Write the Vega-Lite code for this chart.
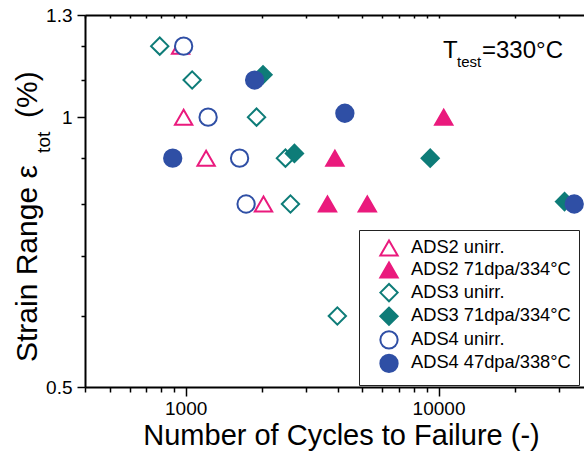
{
  "$schema": "https://vega.github.io/schema/vega-lite/v6.json",
  "width": 499,
  "height": 372,
  "autosize": {"type": "none"},
  "padding": {"left": 85, "top": 15, "right": 0, "bottom": 69},
  "background": "white",
  "config": {
    "view": {"stroke": null},
    "font": "Liberation Sans",
    "axis": {
      "labelFont": "Liberation Sans",
      "titleFont": "Liberation Sans",
      "labelColor": "black",
      "titleColor": "black",
      "titleFontWeight": "normal",
      "domainColor": "black",
      "domainWidth": 2,
      "tickColor": "black",
      "tickWidth": 1.5,
      "grid": false,
      "labelFlush": false,
      "labelOverlap": false
    }
  },
  "resolve": {"axis": {"x": "independent", "y": "independent"}},
  "datasets": {
    "tests": [
      {"series": "ADS2 unirr.", "cycles": 955, "strain": 1.2},
      {"series": "ADS2 unirr.", "cycles": 982, "strain": 1.0},
      {"series": "ADS2 unirr.", "cycles": 1205, "strain": 0.9},
      {"series": "ADS2 unirr.", "cycles": 2032, "strain": 0.8},
      {"series": "ADS2 71dpa/334°C", "cycles": 10483, "strain": 1.0},
      {"series": "ADS2 71dpa/334°C", "cycles": 3892, "strain": 0.9},
      {"series": "ADS2 71dpa/334°C", "cycles": 3638, "strain": 0.8},
      {"series": "ADS2 71dpa/334°C", "cycles": 5228, "strain": 0.8},
      {"series": "ADS3 unirr.", "cycles": 790, "strain": 1.2},
      {"series": "ADS3 unirr.", "cycles": 1061, "strain": 1.1},
      {"series": "ADS3 unirr.", "cycles": 1907, "strain": 1.0},
      {"series": "ADS3 unirr.", "cycles": 2481, "strain": 0.9},
      {"series": "ADS3 unirr.", "cycles": 2597, "strain": 0.8},
      {"series": "ADS3 unirr.", "cycles": 3980, "strain": 0.6},
      {"series": "ADS3 71dpa/334°C", "cycles": 2023, "strain": 1.115},
      {"series": "ADS3 71dpa/334°C", "cycles": 2693, "strain": 0.911},
      {"series": "ADS3 71dpa/334°C", "cycles": 9270, "strain": 0.9},
      {"series": "ADS3 71dpa/334°C", "cycles": 31490, "strain": 0.805},
      {"series": "ADS4 unirr.", "cycles": 982, "strain": 1.2},
      {"series": "ADS4 unirr.", "cycles": 1227, "strain": 1.0},
      {"series": "ADS4 unirr.", "cycles": 1634, "strain": 0.9},
      {"series": "ADS4 unirr.", "cycles": 1734, "strain": 0.8},
      {"series": "ADS4 47dpa/338°C", "cycles": 1874, "strain": 1.1},
      {"series": "ADS4 47dpa/338°C", "cycles": 889, "strain": 0.9},
      {"series": "ADS4 47dpa/338°C", "cycles": 4262, "strain": 1.01},
      {"series": "ADS4 47dpa/338°C", "cycles": 34400, "strain": 0.8}
    ],
    "noteBig": [
      {"cycles": 10415, "strain": 1.1641, "text": "T"},
      {"cycles": 14856, "strain": 1.1641, "text": "=330°C"}
    ],
    "noteSub": [
      {"cycles": 11830, "strain": 1.1375, "text": "test"}
    ],
    "yTitleBig": [
      {"cycles": 258.4, "strain": 0.5331, "text": "Strain Range ε"},
      {"cycles": 258.4, "strain": 0.998, "text": "(%)"}
    ],
    "yTitleSub": [
      {"cycles": 290.9, "strain": 0.9123, "text": "tot"}
    ]
  },
  "layer": [
    {
      "data": {"name": "tests"},
      "mark": {"type": "point", "strokeWidth": 2, "opacity": 1},
      "encoding": {
        "x": {
          "field": "cycles",
          "type": "quantitative",
          "scale": {"type": "log", "domain": [400, 37600], "nice": false},
          "axis": {
            "orient": "bottom",
            "title": "Number of Cycles to Failure (-)",
            "titleFontSize": 29,
            "titlePadding": 3,
            "titleX": 256,
            "values": [1000, 10000],
            "format": "d",
            "labelFontSize": 19,
            "labelPadding": 3,
            "tickSize": 9
          }
        },
        "y": {
          "field": "strain",
          "type": "quantitative",
          "scale": {"type": "log", "domain": [0.5, 1.3], "nice": false},
          "axis": {
            "orient": "left",
            "title": null,
            "values": [0.5, 1, 1.3],
            "labelExpr": "datum.value == 0.5 ? '0.5' : datum.value == 1 ? '1' : '1.3'",
            "labelFontSize": 19,
            "labelPadding": 5,
            "tickSize": 8
          }
        },
        "shape": {
          "field": "series",
          "type": "nominal",
          "sort": null,
          "scale": {
            "domain": ["ADS2 unirr.", "ADS2 71dpa/334°C", "ADS3 unirr.", "ADS3 71dpa/334°C", "ADS4 unirr.", "ADS4 47dpa/338°C"],
            "range": ["triangle-up", "triangle-up", "diamond", "diamond", "circle", "circle"]
          },
          "legend": {
            "title": null,
            "orient": "none",
            "legendX": 274,
            "legendY": 215,
            "padding": 8,
            "symbolOffset": 12,
            "strokeColor": "#222222",
            "fillColor": "white",
            "labelFont": "Liberation Sans",
            "labelFontSize": 18.3,
            "labelColor": "black",
            "labelOffset": 12,
            "labelLimit": 400,
            "rowPadding": -2.4,
            "symbolStrokeWidth": 2
          }
        },
        "stroke": {
          "field": "series",
          "type": "nominal",
          "sort": null,
          "scale": {
            "domain": ["ADS2 unirr.", "ADS2 71dpa/334°C", "ADS3 unirr.", "ADS3 71dpa/334°C", "ADS4 unirr.", "ADS4 47dpa/338°C"],
            "range": ["#EA1A7D", "#EA1A7D", "#0E7C78", "#0E7C78", "#2F4FA5", "#2F4FA5"]
          },
          "legend": {"title": null}
        },
        "fill": {
          "field": "series",
          "type": "nominal",
          "sort": null,
          "scale": {
            "domain": ["ADS2 unirr.", "ADS2 71dpa/334°C", "ADS3 unirr.", "ADS3 71dpa/334°C", "ADS4 unirr.", "ADS4 47dpa/338°C"],
            "range": ["white", "#EA1A7D", "white", "#0E7C78", "white", "#2F4FA5"]
          },
          "legend": {"title": null}
        },
        "size": {
          "field": "series",
          "type": "nominal",
          "sort": null,
          "scale": {
            "domain": ["ADS2 unirr.", "ADS2 71dpa/334°C", "ADS3 unirr.", "ADS3 71dpa/334°C", "ADS4 unirr.", "ADS4 47dpa/338°C"],
            "range": [300, 300, 360, 360, 220, 240]
          },
          "legend": {"title": null}
        }
      }
    },
    {
      "data": {"name": "noteBig"},
      "mark": {"type": "text", "align": "left", "baseline": "alphabetic", "fontSize": 24, "font": "Liberation Sans", "color": "black"},
      "encoding": {
        "x": {
          "field": "cycles",
          "type": "quantitative",
          "axis": {
            "orient": "top",
            "title": null,
            "labels": false,
            "values": [400, 500, 600, 700, 800, 900, 1000, 2000, 3000, 4000, 5000, 6000, 7000, 8000, 9000, 10000, 20000, 30000],
            "tickSize": -3
          }
        },
        "y": {
          "field": "strain",
          "type": "quantitative",
          "axis": {
            "orient": "left",
            "title": null,
            "labels": false,
            "domain": false,
            "values": [0.6, 0.7, 0.8, 0.9, 1.1, 1.2],
            "tickSize": 4
          }
        },
        "text": {"field": "text"}
      }
    },
    {
      "data": {"name": "noteSub"},
      "mark": {"type": "text", "align": "left", "baseline": "alphabetic", "fontSize": 15, "font": "Liberation Sans", "color": "black"},
      "encoding": {
        "x": {
          "field": "cycles",
          "type": "quantitative",
          "axis": {
            "orient": "bottom",
            "title": null,
            "labels": false,
            "domain": false,
            "values": [400, 500, 600, 700, 800, 900, 2000, 3000, 4000, 5000, 6000, 7000, 8000, 9000, 20000, 30000],
            "tickSize": 5
          }
        },
        "y": {"field": "strain", "type": "quantitative", "axis": null},
        "text": {"field": "text"}
      }
    },
    {
      "data": {"name": "yTitleBig"},
      "mark": {"type": "text", "align": "left", "baseline": "alphabetic", "angle": 270, "fontSize": 30, "font": "Liberation Sans", "color": "black"},
      "encoding": {
        "x": {"field": "cycles", "type": "quantitative", "axis": null},
        "y": {"field": "strain", "type": "quantitative", "axis": null},
        "text": {"field": "text"}
      }
    },
    {
      "data": {"name": "yTitleSub"},
      "mark": {"type": "text", "align": "left", "baseline": "alphabetic", "angle": 270, "fontSize": 19, "font": "Liberation Sans", "color": "black"},
      "encoding": {
        "x": {"field": "cycles", "type": "quantitative", "axis": null},
        "y": {"field": "strain", "type": "quantitative", "axis": null},
        "text": {"field": "text"}
      }
    }
  ]
}
